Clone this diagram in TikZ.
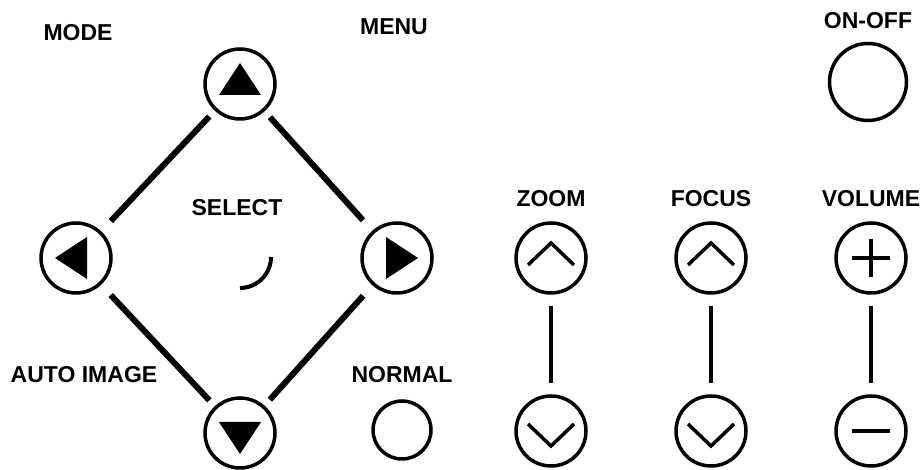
\documentclass[tikz,border=0pt]{standalone}
\usepackage{fontspec}
\setmainfont{Liberation Sans}
\usetikzlibrary{positioning}

\begin{document}
\begin{tikzpicture}[%
        x=1pt, y=1pt,
        on grid,
        every node/.style={font=\fontsize{23}{27}\selectfont\bfseries},
        button/.style={%
          circle,
          draw,
          line width=3.5pt,
          minimum size=70pt,
          inner sep=0pt
        },
        solidglyph/.style={button, path picture={%
          \fill[shift={(path picture bounding box.center)}] #1 -- cycle;}},
        lineglyph/.style={button, path picture={%
          \draw[line width=3.5pt, shift={(path picture bounding box.center)}] #1;}},
        triup/.style={solidglyph={(-21pt,-11pt) -- (21pt,-11pt) -- (0pt,21pt)}},
        tridown/.style={solidglyph={(-21pt,11pt) -- (21pt,11pt) -- (0pt,-21pt)}},
        trileft/.style={solidglyph={(11pt,-21pt) -- (11pt,21pt) -- (-21pt,0pt)}},
        triright/.style={solidglyph={(-11pt,-21pt) -- (-11pt,21pt) -- (21pt,0pt)}},
        chevup/.style={lineglyph={(-23pt,-7pt) -- (0pt,15pt) -- (23pt,-7pt)}},
        chevdown/.style={lineglyph={(-23pt,7pt) -- (0pt,-15pt) -- (23pt,7pt)}},
        plus/.style={lineglyph={(-19pt,0pt) -- (19pt,0pt) (0pt,-19pt) -- (0pt,19pt)}},
        minus/.style={lineglyph={(-19pt,0pt) -- (19pt,0pt)}},
        diag/.style={line width=6pt, shorten <=8pt, shorten >=14pt},
        bar/.style={line width=4.5pt, shorten <=11pt, shorten >=11pt}
      ]
      \useasboundingbox (0,0) rectangle (924,470);

      % cross pad
      \node[triup] (up) at (240,386) {};
      \node[trileft] (left) [below left=174pt and 164pt of up] {};
      \node[triright] (right) [below right=174pt and 157pt of up] {};
      \node[tridown] (down) [below=349pt of up] {};
      \node[button, minimum size=58pt] (normal) at (402,40) {};
      \node[button, minimum size=77pt] (onoff) at (868,388) {};

      % zoom, focus, volume
      \node[chevup] (zoomup) at (551,212) {};
      \node[chevup] (focusup) [right=160pt of zoomup] {};
      \node[plus] (volup) [right=160pt of focusup] {};
      \node[chevdown] (zoomdown) [below=173pt of zoomup] {};
      \node[chevdown] (focusdown) [below=173pt of focusup] {};
      \node[minus] (voldown) [below=173pt of volup] {};

      % labels
      \node (mode) at (78,437) {MODE};
      \node (menu) at (394,443) {MENU};
      \node (select) at (237,262) {SELECT};
      \node (autoimage) at (84,95) {AUTO IMAGE};
      \node (normallbl) [above=55pt of normal] {NORMAL};
      \node (onofflbl) [above=61pt of onoff] {ON-OFF};
      \node (zoomlbl) [above=59pt of zoomup] {ZOOM};
      \node (focuslbl) [above=59pt of focusup] {FOCUS};
      \node (volumelbl) [above=59pt of volup] {VOLUME};

      \path (up) edge[diag] (left)
      (up) edge[diag] (right)
      (down) edge[diag] (left)
      (down) edge[diag] (right)
      (zoomup) edge[bar] (zoomdown)
      (focusup) edge[bar] (focusdown)
      (volup) edge[bar] (voldown);

      \draw[line width=4pt] (271,213) arc[start angle=0, end angle=-90, radius=31pt];
  \end{tikzpicture}
\end{document}
